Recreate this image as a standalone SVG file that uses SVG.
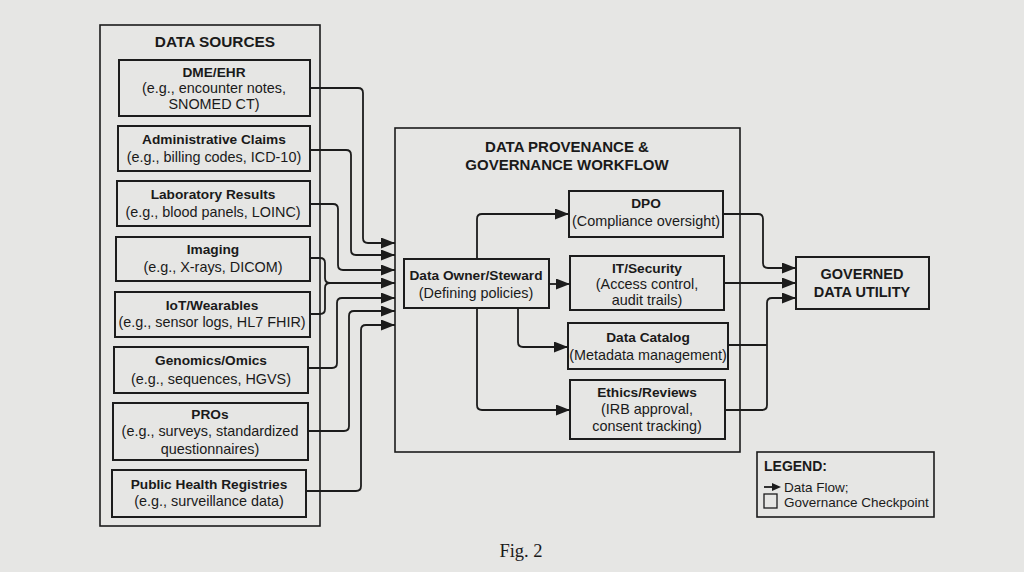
<svg xmlns="http://www.w3.org/2000/svg" width="1024" height="572" viewBox="0 0 1024 572">
<style>
.bg{fill:#e6e6e4}
.box{fill:none;stroke:#1c1c1c;stroke-width:2}
.outer{fill:none;stroke:#1c1c1c;stroke-width:1.6}
.t{font-family:"Liberation Sans",Arial,sans-serif;font-size:14.4px;fill:#1a1a1a;text-anchor:middle}
.b{font-weight:bold;font-size:13.7px}
.h{font-family:"Liberation Sans",Arial,sans-serif;font-size:15px;font-weight:bold;fill:#1a1a1a;text-anchor:middle}
.c{fill:none;stroke:#1c1c1c;stroke-width:1.8}
.lg{font-family:"Liberation Sans",Arial,sans-serif;font-size:13.5px;fill:#1a1a1a}
</style>
<defs>
<marker id="ah" markerWidth="14" markerHeight="11" refX="14" refY="5.5" orient="auto" markerUnits="userSpaceOnUse">
<path d="M0,0 L14,5.5 L0,11 z" fill="#1c1c1c"/>
</marker>
</defs>
<rect class="bg" x="0" y="0" width="1024" height="572"/>

<g id="data-sources">
<rect class="outer" x="100" y="25" width="220" height="501"/>
<text class="h" x="215" y="47" style="font-size:15.4px">DATA SOURCES</text>
</g>
<g id="dme-ehr">
<rect class="box" x="119" y="60" width="191" height="56"/>
<text class="t b" x="214" y="77">DME/EHR</text>
<text class="t" x="214" y="93">(e.g., encounter notes,</text>
<text class="t" x="214" y="109">SNOMED CT)</text>
</g>
<g id="admin-claims">
<rect class="box" x="118" y="126" width="192" height="45"/>
<text class="t b" x="214" y="144">Administrative Claims</text>
<text class="t" x="214" y="162">(e.g., billing codes, ICD-10)</text>
</g>
<g id="lab-results">
<rect class="box" x="117" y="181" width="193" height="45"/>
<text class="t b" x="213" y="199">Laboratory Results</text>
<text class="t" x="213" y="217">(e.g., blood panels, LOINC)</text>
</g>
<g id="imaging">
<rect class="box" x="116" y="237" width="194" height="44"/>
<text class="t b" x="213" y="254">Imaging</text>
<text class="t" x="213" y="272">(e.g., X-rays, DICOM)</text>
</g>
<g id="iot-wearables">
<rect class="box" x="115" y="292" width="195" height="45"/>
<text class="t b" x="212" y="310">IoT/Wearables</text>
<text class="t" x="212" y="327">(e.g., sensor logs, HL7 FHIR)</text>
</g>
<g id="genomics">
<rect class="box" x="114" y="347" width="194" height="46"/>
<text class="t b" x="211" y="365">Genomics/Omics</text>
<text class="t" x="211" y="384">(e.g., sequences, HGVS)</text>
</g>
<g id="pros">
<rect class="box" x="113" y="403" width="195" height="57"/>
<text class="t b" x="210" y="419">PROs</text>
<text class="t" x="210" y="436">(e.g., surveys, standardized</text>
<text class="t" x="210" y="454">questionnaires)</text>
</g>
<g id="public-health">
<rect class="box" x="112" y="470" width="194" height="47"/>
<text class="t b" x="209" y="489">Public Health Registries</text>
<text class="t" x="209" y="506">(e.g., surveillance data)</text>
</g>

<g id="workflow">
<rect class="outer" x="395" y="128" width="345" height="324"/>
<text class="h" x="567" y="152">DATA PROVENANCE &amp;</text>
<text class="h" x="567" y="170">GOVERNANCE WORKFLOW</text>
</g>
<g id="data-owner">
<rect class="box" x="404" y="259" width="145" height="49"/>
<text class="t b" x="476" y="280">Data Owner/Steward</text>
<text class="t" x="476" y="298">(Defining policies)</text>
</g>
<g id="dpo">
<rect class="box" x="569" y="191" width="154" height="46"/>
<text class="t b" x="646" y="208">DPO</text>
<text class="t" x="646" y="226">(Compliance oversight)</text>
</g>
<g id="it-security">
<rect class="box" x="570" y="256" width="154" height="54"/>
<text class="t b" x="647" y="273">IT/Security</text>
<text class="t" x="647" y="289">(Access control,</text>
<text class="t" x="647" y="305">audit trails)</text>
</g>
<g id="data-catalog">
<rect class="box" x="568" y="323" width="160" height="46"/>
<text class="t b" x="648" y="342">Data Catalog</text>
<text class="t" x="648" y="360">(Metadata management)</text>
</g>
<g id="ethics">
<rect class="box" x="570" y="380" width="155" height="59"/>
<text class="t b" x="647" y="397">Ethics/Reviews</text>
<text class="t" x="647" y="414">(IRB approval,</text>
<text class="t" x="647" y="431">consent tracking)</text>
</g>
<g id="governed">
<rect class="box" x="796" y="257" width="133" height="52"/>
<text class="h" x="862" y="279" style="font-size:14.5px">GOVERNED</text>
<text class="h" x="862" y="297" style="font-size:14.5px">DATA UTILITY</text>
</g>

<g id="connectors">
<path class="c" marker-end="url(#ah)" d="M310,88 H358 Q363,88 363,93 V238 Q363,243 368,243 H395"/>
<path class="c" marker-end="url(#ah)" d="M310,150 H346 Q351,150 351,155 V250 Q351,255 356,255 H395"/>
<path class="c" marker-end="url(#ah)" d="M310,204 H333 Q338,204 338,209 V265 Q338,270 343,270 H395"/>
<path class="c" marker-end="url(#ah)" d="M310,258 H320 Q325,258 325,263 V278 Q325,283 330,283 H395"/>
<path class="c" d="M310,314 H320 Q325,314 325,309 V288 Q325,283 330,283"/>
<path class="c" marker-end="url(#ah)" d="M308,368 H332 Q337,368 337,363 V303 Q337,298 342,298 H395"/>
<path class="c" marker-end="url(#ah)" d="M308,431 H344 Q349,431 349,426 V316 Q349,311 354,311 H395"/>
<path class="c" marker-end="url(#ah)" d="M306,491 H356 Q361,491 361,486 V330 Q361,325 366,325 H395"/>

<path class="c" marker-end="url(#ah)" d="M477,259 V219 Q477,214 482,214 H569"/>
<path class="c" marker-end="url(#ah)" d="M549,284 H570"/>
<path class="c" marker-end="url(#ah)" d="M518,308 V342 Q518,347 523,347 H568"/>
<path class="c" marker-end="url(#ah)" d="M477,308 V405 Q477,410 482,410 H570"/>

<path class="c" marker-end="url(#ah)" d="M723,214 H758 Q763,214 763,219 V263 Q763,268 768,268 H796"/>
<path class="c" marker-end="url(#ah)" d="M724,283 H796"/>
<path class="c" d="M728,345 H767"/>
<path class="c" marker-end="url(#ah)" d="M725,410 H762 Q767,410 767,405 V303 Q767,298 772,298 H796"/>
</g>

<g id="legend">
<rect class="outer" x="757" y="452" width="177" height="65"/>
<text class="lg" x="764" y="471" style="font-weight:bold;font-size:14px">LEGEND:</text>
<line x1="764" y1="487" x2="774" y2="487" stroke="#1c1c1c" stroke-width="1.8"/>
<path d="M772,483 L781,487 L772,491 z" fill="#1c1c1c"/>
<text class="lg" x="784" y="492">Data Flow;</text>
<rect x="764" y="494" width="13" height="14" fill="none" stroke="#1c1c1c" stroke-width="1.3"/>
<text class="lg" x="784" y="507">Governance Checkpoint</text>
</g>

<text x="521" y="557" style="font-family:'Liberation Serif','Times New Roman',serif;font-size:18.5px;fill:#1a1a1a;text-anchor:middle">Fig. 2</text>
</svg>
